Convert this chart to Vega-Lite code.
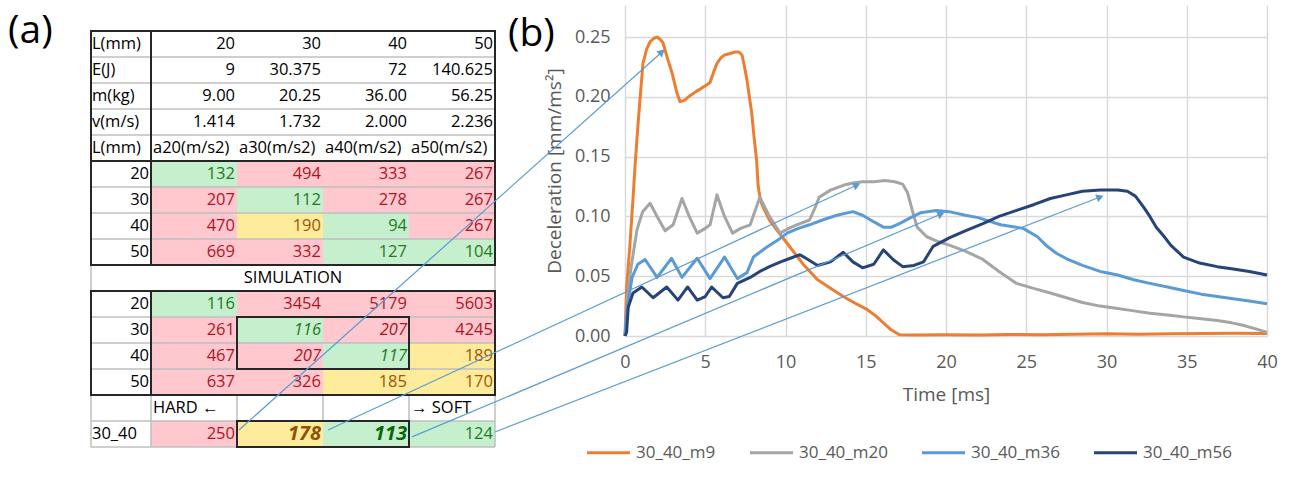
{
  "$schema": "https://vega.github.io/schema/vega-lite/v6.json",
  "background": "white",
  "padding": {"left": 8, "top": 5, "right": 5, "bottom": 5},
  "config": {
    "view": {"stroke": null},
    "font": "Open Sans",
    "text": {"font": "Open Sans"}
  },
  "datasets": {
    "cells": [
      {"row": 1, "col": "label", "text": "L(mm)", "kind": "text"},
      {"row": 1, "col": "20", "text": "20", "kind": "number"},
      {"row": 1, "col": "30", "text": "30", "kind": "number"},
      {"row": 1, "col": "40", "text": "40", "kind": "number"},
      {"row": 1, "col": "50", "text": "50", "kind": "number"},
      {"row": 2, "col": "label", "text": "E(J)", "kind": "text"},
      {"row": 2, "col": "20", "text": "9", "kind": "number"},
      {"row": 2, "col": "30", "text": "30.375", "kind": "number"},
      {"row": 2, "col": "40", "text": "72", "kind": "number"},
      {"row": 2, "col": "50", "text": "140.625", "kind": "number"},
      {"row": 3, "col": "label", "text": "m(kg)", "kind": "text"},
      {"row": 3, "col": "20", "text": "9.00", "kind": "number"},
      {"row": 3, "col": "30", "text": "20.25", "kind": "number"},
      {"row": 3, "col": "40", "text": "36.00", "kind": "number"},
      {"row": 3, "col": "50", "text": "56.25", "kind": "number"},
      {"row": 4, "col": "label", "text": "v(m/s)", "kind": "text"},
      {"row": 4, "col": "20", "text": "1.414", "kind": "number"},
      {"row": 4, "col": "30", "text": "1.732", "kind": "number"},
      {"row": 4, "col": "40", "text": "2.000", "kind": "number"},
      {"row": 4, "col": "50", "text": "2.236", "kind": "number"},
      {"row": 5, "col": "label", "text": "L(mm)", "kind": "text"},
      {"row": 5, "col": "20", "text": "a20(m/s2)", "kind": "text"},
      {"row": 5, "col": "30", "text": "a30(m/s2)", "kind": "text"},
      {"row": 5, "col": "40", "text": "a40(m/s2)", "kind": "text"},
      {"row": 5, "col": "50", "text": "a50(m/s2)", "kind": "text"},
      {"row": 6, "col": "label", "text": "20", "kind": "number"},
      {"row": 6, "col": "20", "text": "132", "kind": "number", "rating": "good"},
      {"row": 6, "col": "30", "text": "494", "kind": "number", "rating": "poor"},
      {"row": 6, "col": "40", "text": "333", "kind": "number", "rating": "poor"},
      {"row": 6, "col": "50", "text": "267", "kind": "number", "rating": "poor"},
      {"row": 7, "col": "label", "text": "30", "kind": "number"},
      {"row": 7, "col": "20", "text": "207", "kind": "number", "rating": "poor"},
      {"row": 7, "col": "30", "text": "112", "kind": "number", "rating": "good"},
      {"row": 7, "col": "40", "text": "278", "kind": "number", "rating": "poor"},
      {"row": 7, "col": "50", "text": "267", "kind": "number", "rating": "poor"},
      {"row": 8, "col": "label", "text": "40", "kind": "number"},
      {"row": 8, "col": "20", "text": "470", "kind": "number", "rating": "poor"},
      {"row": 8, "col": "30", "text": "190", "kind": "number", "rating": "fair"},
      {"row": 8, "col": "40", "text": "94", "kind": "number", "rating": "good"},
      {"row": 8, "col": "50", "text": "267", "kind": "number", "rating": "poor"},
      {"row": 9, "col": "label", "text": "50", "kind": "number"},
      {"row": 9, "col": "20", "text": "669", "kind": "number", "rating": "poor"},
      {"row": 9, "col": "30", "text": "332", "kind": "number", "rating": "poor"},
      {"row": 9, "col": "40", "text": "127", "kind": "number", "rating": "good"},
      {"row": 9, "col": "50", "text": "104", "kind": "number", "rating": "good"},
      {"row": 10, "col": "all", "text": "SIMULATION", "kind": "text"},
      {"row": 11, "col": "label", "text": "20", "kind": "number"},
      {"row": 11, "col": "20", "text": "116", "kind": "number", "rating": "good"},
      {"row": 11, "col": "30", "text": "3454", "kind": "number", "rating": "poor"},
      {"row": 11, "col": "40", "text": "5179", "kind": "number", "rating": "poor"},
      {"row": 11, "col": "50", "text": "5603", "kind": "number", "rating": "poor"},
      {"row": 12, "col": "label", "text": "30", "kind": "number"},
      {"row": 12, "col": "20", "text": "261", "kind": "number", "rating": "poor"},
      {"row": 12, "col": "30", "text": "116", "kind": "number", "rating": "good", "emph": "boxed"},
      {"row": 12, "col": "40", "text": "207", "kind": "number", "rating": "poor", "emph": "boxed"},
      {"row": 12, "col": "50", "text": "4245", "kind": "number", "rating": "poor"},
      {"row": 13, "col": "label", "text": "40", "kind": "number"},
      {"row": 13, "col": "20", "text": "467", "kind": "number", "rating": "poor"},
      {"row": 13, "col": "30", "text": "207", "kind": "number", "rating": "poor", "emph": "boxed"},
      {"row": 13, "col": "40", "text": "117", "kind": "number", "rating": "good", "emph": "boxed"},
      {"row": 13, "col": "50", "text": "189", "kind": "number", "rating": "fair"},
      {"row": 14, "col": "label", "text": "50", "kind": "number"},
      {"row": 14, "col": "20", "text": "637", "kind": "number", "rating": "poor"},
      {"row": 14, "col": "30", "text": "326", "kind": "number", "rating": "poor"},
      {"row": 14, "col": "40", "text": "185", "kind": "number", "rating": "fair"},
      {"row": 14, "col": "50", "text": "170", "kind": "number", "rating": "fair"},
      {"row": 15, "col": "20", "text": "HARD ←", "kind": "text"},
      {"row": 15, "col": "50", "text": "→ SOFT", "kind": "text"},
      {"row": 16, "col": "label", "text": "30_40", "kind": "text"},
      {"row": 16, "col": "20", "text": "250", "kind": "number", "rating": "poor"},
      {"row": 16, "col": "30", "text": "178", "kind": "number", "rating": "fair", "emph": "best"},
      {"row": 16, "col": "40", "text": "113", "kind": "number", "rating": "good", "emph": "best"},
      {"row": 16, "col": "50", "text": "124", "kind": "number", "rating": "good"}
    ],
    "rows": [
      {"row": 1}, {"row": 2}, {"row": 3}, {"row": 4}, {"row": 5}, {"row": 6}, {"row": 7}, {"row": 8},
      {"row": 9}, {"row": 10}, {"row": 11}, {"row": 12}, {"row": 13}, {"row": 14}, {"row": 15}, {"row": 16}
    ],
    "borders": [
      {"region": "label", "kind": "minor", "x0": 0, "x1": 0, "y0": 10, "y1": 11},
      {"region": "label", "kind": "minor", "x0": 0, "x1": 0, "y0": 15, "y1": 17},
      {"region": "label", "kind": "minor", "x0": 1, "x1": 1, "y0": 15, "y1": 17},
      {"region": "data", "kind": "minor", "x0": 4, "x1": 4, "y0": 10, "y1": 11},
      {"region": "data", "kind": "minor", "x0": 4, "x1": 4, "y0": 15, "y1": 17},
      {"region": "data", "kind": "minor", "x0": 1, "x1": 1, "y0": 15, "y1": 16},
      {"region": "data", "kind": "minor", "x0": 2, "x1": 2, "y0": 15, "y1": 16},
      {"region": "data", "kind": "minor", "x0": 3, "x1": 3, "y0": 15, "y1": 16},
      {"region": "label", "kind": "box", "x0": 0, "x1": 1, "y0": 1, "y1": 10},
      {"region": "label", "kind": "box", "x0": 0, "x1": 1, "y0": 11, "y1": 15},
      {"region": "data", "kind": "box", "x0": 0, "x1": 4, "y0": 1, "y1": 10},
      {"region": "data", "kind": "box", "x0": 0, "x1": 4, "y0": 11, "y1": 15},
      {"region": "data", "kind": "box", "x0": 1, "x1": 3, "y0": 12, "y1": 14},
      {"region": "data", "kind": "box", "x0": 1, "x1": 3, "y0": 16, "y1": 17},
      {"region": "all", "kind": "hline", "x0": 0, "x1": 5, "y0": 6, "y1": 6}
    ],
    "curves": [
      {"series": "30_40_m9", "time": 0, "decel": 0},
      {"series": "30_40_m9", "time": 0.1, "decel": 0.04},
      {"series": "30_40_m9", "time": 0.3, "decel": 0.075},
      {"series": "30_40_m9", "time": 0.5, "decel": 0.115},
      {"series": "30_40_m9", "time": 0.62, "decel": 0.141},
      {"series": "30_40_m9", "time": 0.8, "decel": 0.175},
      {"series": "30_40_m9", "time": 0.93, "decel": 0.197},
      {"series": "30_40_m9", "time": 1.12, "decel": 0.228},
      {"series": "30_40_m9", "time": 1.35, "decel": 0.24},
      {"series": "30_40_m9", "time": 1.56, "decel": 0.246},
      {"series": "30_40_m9", "time": 1.8, "decel": 0.249},
      {"series": "30_40_m9", "time": 2.0, "decel": 0.25},
      {"series": "30_40_m9", "time": 2.2, "decel": 0.248},
      {"series": "30_40_m9", "time": 2.37, "decel": 0.245},
      {"series": "30_40_m9", "time": 2.65, "decel": 0.232},
      {"series": "30_40_m9", "time": 2.93, "decel": 0.22},
      {"series": "30_40_m9", "time": 3.24, "decel": 0.203},
      {"series": "30_40_m9", "time": 3.43, "decel": 0.196},
      {"series": "30_40_m9", "time": 3.7, "decel": 0.197},
      {"series": "30_40_m9", "time": 4.05, "decel": 0.201},
      {"series": "30_40_m9", "time": 4.5, "decel": 0.205},
      {"series": "30_40_m9", "time": 4.86, "decel": 0.208},
      {"series": "30_40_m9", "time": 5.1, "decel": 0.21},
      {"series": "30_40_m9", "time": 5.3, "decel": 0.212},
      {"series": "30_40_m9", "time": 5.5, "decel": 0.22},
      {"series": "30_40_m9", "time": 5.73, "decel": 0.228},
      {"series": "30_40_m9", "time": 6.0, "decel": 0.233},
      {"series": "30_40_m9", "time": 6.2, "decel": 0.235},
      {"series": "30_40_m9", "time": 6.5, "decel": 0.236},
      {"series": "30_40_m9", "time": 6.85, "decel": 0.2375},
      {"series": "30_40_m9", "time": 7.1, "decel": 0.2375},
      {"series": "30_40_m9", "time": 7.29, "decel": 0.235},
      {"series": "30_40_m9", "time": 7.45, "decel": 0.225},
      {"series": "30_40_m9", "time": 7.6, "decel": 0.214},
      {"series": "30_40_m9", "time": 7.75, "decel": 0.2},
      {"series": "30_40_m9", "time": 7.9, "decel": 0.186},
      {"series": "30_40_m9", "time": 8.05, "decel": 0.165},
      {"series": "30_40_m9", "time": 8.2, "decel": 0.147},
      {"series": "30_40_m9", "time": 8.3, "decel": 0.125},
      {"series": "30_40_m9", "time": 8.45, "decel": 0.113},
      {"series": "30_40_m9", "time": 8.6, "decel": 0.108},
      {"series": "30_40_m9", "time": 9.0, "decel": 0.097},
      {"series": "30_40_m9", "time": 9.5, "decel": 0.088},
      {"series": "30_40_m9", "time": 10.3, "decel": 0.074},
      {"series": "30_40_m9", "time": 11.1, "decel": 0.06},
      {"series": "30_40_m9", "time": 12.0, "decel": 0.047},
      {"series": "30_40_m9", "time": 12.8, "decel": 0.04},
      {"series": "30_40_m9", "time": 13.6, "decel": 0.033},
      {"series": "30_40_m9", "time": 14.4, "decel": 0.027},
      {"series": "30_40_m9", "time": 15.1, "decel": 0.022},
      {"series": "30_40_m9", "time": 15.6, "decel": 0.017},
      {"series": "30_40_m9", "time": 16.1, "decel": 0.011},
      {"series": "30_40_m9", "time": 16.6, "decel": 0.005},
      {"series": "30_40_m9", "time": 17.1, "decel": 0.001},
      {"series": "30_40_m9", "time": 18, "decel": 0.0008},
      {"series": "30_40_m9", "time": 20, "decel": 0.001},
      {"series": "30_40_m9", "time": 22, "decel": 0.0008},
      {"series": "30_40_m9", "time": 24, "decel": 0.0012},
      {"series": "30_40_m9", "time": 26, "decel": 0.001},
      {"series": "30_40_m9", "time": 28, "decel": 0.0015},
      {"series": "30_40_m9", "time": 30, "decel": 0.0018},
      {"series": "30_40_m9", "time": 32, "decel": 0.0015},
      {"series": "30_40_m9", "time": 34, "decel": 0.0018},
      {"series": "30_40_m9", "time": 36, "decel": 0.002},
      {"series": "30_40_m9", "time": 38, "decel": 0.0022},
      {"series": "30_40_m9", "time": 40, "decel": 0.002},
      {"series": "30_40_m20", "time": 0, "decel": 0},
      {"series": "30_40_m20", "time": 0.12, "decel": 0.024},
      {"series": "30_40_m20", "time": 0.3, "decel": 0.05},
      {"series": "30_40_m20", "time": 0.5, "decel": 0.068},
      {"series": "30_40_m20", "time": 0.75, "decel": 0.089},
      {"series": "30_40_m20", "time": 1.1, "decel": 0.104},
      {"series": "30_40_m20", "time": 1.56, "decel": 0.111},
      {"series": "30_40_m20", "time": 2.0, "decel": 0.1},
      {"series": "30_40_m20", "time": 2.5, "decel": 0.088},
      {"series": "30_40_m20", "time": 3.0, "decel": 0.093},
      {"series": "30_40_m20", "time": 3.55, "decel": 0.115},
      {"series": "30_40_m20", "time": 4.0, "decel": 0.1},
      {"series": "30_40_m20", "time": 4.5, "decel": 0.086},
      {"series": "30_40_m20", "time": 5.0, "decel": 0.09},
      {"series": "30_40_m20", "time": 5.3, "decel": 0.093},
      {"series": "30_40_m20", "time": 5.73, "decel": 0.118},
      {"series": "30_40_m20", "time": 6.2, "decel": 0.1},
      {"series": "30_40_m20", "time": 6.7, "decel": 0.086},
      {"series": "30_40_m20", "time": 7.2, "decel": 0.09},
      {"series": "30_40_m20", "time": 7.8, "decel": 0.093},
      {"series": "30_40_m20", "time": 8.4, "decel": 0.116},
      {"series": "30_40_m20", "time": 9.0, "decel": 0.1},
      {"series": "30_40_m20", "time": 9.66, "decel": 0.086},
      {"series": "30_40_m20", "time": 10.2, "decel": 0.09},
      {"series": "30_40_m20", "time": 10.7, "decel": 0.093},
      {"series": "30_40_m20", "time": 11.5, "decel": 0.097},
      {"series": "30_40_m20", "time": 11.8, "decel": 0.106},
      {"series": "30_40_m20", "time": 12.1, "decel": 0.116},
      {"series": "30_40_m20", "time": 12.8, "decel": 0.122},
      {"series": "30_40_m20", "time": 13.6, "decel": 0.126},
      {"series": "30_40_m20", "time": 14.2, "decel": 0.128},
      {"series": "30_40_m20", "time": 14.8, "decel": 0.129},
      {"series": "30_40_m20", "time": 15.5, "decel": 0.129},
      {"series": "30_40_m20", "time": 16.2, "decel": 0.13},
      {"series": "30_40_m20", "time": 16.8, "decel": 0.129},
      {"series": "30_40_m20", "time": 17.3, "decel": 0.127},
      {"series": "30_40_m20", "time": 17.6, "decel": 0.12},
      {"series": "30_40_m20", "time": 17.9, "decel": 0.105},
      {"series": "30_40_m20", "time": 18.2, "decel": 0.091},
      {"series": "30_40_m20", "time": 18.8, "decel": 0.083},
      {"series": "30_40_m20", "time": 19.5, "decel": 0.079},
      {"series": "30_40_m20", "time": 20.2, "decel": 0.076},
      {"series": "30_40_m20", "time": 21.2, "decel": 0.071},
      {"series": "30_40_m20", "time": 22.3, "decel": 0.064},
      {"series": "30_40_m20", "time": 23.3, "decel": 0.054},
      {"series": "30_40_m20", "time": 24.4, "decel": 0.044},
      {"series": "30_40_m20", "time": 25.4, "decel": 0.04},
      {"series": "30_40_m20", "time": 26.5, "decel": 0.036},
      {"series": "30_40_m20", "time": 27.5, "decel": 0.032},
      {"series": "30_40_m20", "time": 28.5, "decel": 0.028},
      {"series": "30_40_m20", "time": 29.6, "decel": 0.025},
      {"series": "30_40_m20", "time": 30.7, "decel": 0.023},
      {"series": "30_40_m20", "time": 31.7, "decel": 0.021},
      {"series": "30_40_m20", "time": 32.7, "decel": 0.019},
      {"series": "30_40_m20", "time": 33.8, "decel": 0.0175},
      {"series": "30_40_m20", "time": 34.8, "decel": 0.016},
      {"series": "30_40_m20", "time": 35.9, "decel": 0.0145},
      {"series": "30_40_m20", "time": 36.9, "decel": 0.013},
      {"series": "30_40_m20", "time": 37.8, "decel": 0.011},
      {"series": "30_40_m20", "time": 38.5, "decel": 0.009},
      {"series": "30_40_m20", "time": 39.3, "decel": 0.006},
      {"series": "30_40_m20", "time": 40, "decel": 0.003},
      {"series": "30_40_m36", "time": 0, "decel": 0},
      {"series": "30_40_m36", "time": 0.12, "decel": 0.022},
      {"series": "30_40_m36", "time": 0.44, "decel": 0.049},
      {"series": "30_40_m36", "time": 0.8, "decel": 0.06},
      {"series": "30_40_m36", "time": 1.25, "decel": 0.064},
      {"series": "30_40_m36", "time": 2.0, "decel": 0.049},
      {"series": "30_40_m36", "time": 2.9, "decel": 0.065},
      {"series": "30_40_m36", "time": 3.55, "decel": 0.049},
      {"series": "30_40_m36", "time": 4.5, "decel": 0.065},
      {"series": "30_40_m36", "time": 5.3, "decel": 0.048},
      {"series": "30_40_m36", "time": 6.2, "decel": 0.066},
      {"series": "30_40_m36", "time": 7.0, "decel": 0.048},
      {"series": "30_40_m36", "time": 7.6, "decel": 0.053},
      {"series": "30_40_m36", "time": 8.0, "decel": 0.066},
      {"series": "30_40_m36", "time": 8.8, "decel": 0.074},
      {"series": "30_40_m36", "time": 9.5, "decel": 0.08},
      {"series": "30_40_m36", "time": 10.1, "decel": 0.086},
      {"series": "30_40_m36", "time": 10.8, "decel": 0.09},
      {"series": "30_40_m36", "time": 11.5, "decel": 0.093},
      {"series": "30_40_m36", "time": 12.3, "decel": 0.097},
      {"series": "30_40_m36", "time": 13.2, "decel": 0.101},
      {"series": "30_40_m36", "time": 14.2, "decel": 0.104},
      {"series": "30_40_m36", "time": 14.8, "decel": 0.101},
      {"series": "30_40_m36", "time": 15.3, "decel": 0.097},
      {"series": "30_40_m36", "time": 16.1, "decel": 0.091},
      {"series": "30_40_m36", "time": 16.6, "decel": 0.091},
      {"series": "30_40_m36", "time": 17.1, "decel": 0.094},
      {"series": "30_40_m36", "time": 17.8, "decel": 0.099},
      {"series": "30_40_m36", "time": 18.4, "decel": 0.103},
      {"series": "30_40_m36", "time": 19.4, "decel": 0.105},
      {"series": "30_40_m36", "time": 20.2, "decel": 0.104},
      {"series": "30_40_m36", "time": 21.2, "decel": 0.101},
      {"series": "30_40_m36", "time": 22.0, "decel": 0.099},
      {"series": "30_40_m36", "time": 23.4, "decel": 0.093},
      {"series": "30_40_m36", "time": 24.8, "decel": 0.09},
      {"series": "30_40_m36", "time": 25.7, "decel": 0.083},
      {"series": "30_40_m36", "time": 26.3, "decel": 0.075},
      {"series": "30_40_m36", "time": 26.9, "decel": 0.069},
      {"series": "30_40_m36", "time": 27.6, "decel": 0.064},
      {"series": "30_40_m36", "time": 28.5, "decel": 0.059},
      {"series": "30_40_m36", "time": 29.6, "decel": 0.054},
      {"series": "30_40_m36", "time": 30.7, "decel": 0.051},
      {"series": "30_40_m36", "time": 31.7, "decel": 0.047},
      {"series": "30_40_m36", "time": 32.7, "decel": 0.044},
      {"series": "30_40_m36", "time": 33.8, "decel": 0.041},
      {"series": "30_40_m36", "time": 34.8, "decel": 0.038},
      {"series": "30_40_m36", "time": 35.9, "decel": 0.035},
      {"series": "30_40_m36", "time": 36.9, "decel": 0.033},
      {"series": "30_40_m36", "time": 38, "decel": 0.031},
      {"series": "30_40_m36", "time": 39, "decel": 0.029},
      {"series": "30_40_m36", "time": 40, "decel": 0.027},
      {"series": "30_40_m56", "time": 0, "decel": 0},
      {"series": "30_40_m56", "time": 0.1, "decel": 0.003},
      {"series": "30_40_m56", "time": 0.2, "decel": 0.024},
      {"series": "30_40_m56", "time": 0.5, "decel": 0.036},
      {"series": "30_40_m56", "time": 1.05, "decel": 0.041},
      {"series": "30_40_m56", "time": 1.75, "decel": 0.032},
      {"series": "30_40_m56", "time": 2.6, "decel": 0.041},
      {"series": "30_40_m56", "time": 3.3, "decel": 0.03},
      {"series": "30_40_m56", "time": 3.9, "decel": 0.041},
      {"series": "30_40_m56", "time": 4.5, "decel": 0.03},
      {"series": "30_40_m56", "time": 5.0, "decel": 0.033},
      {"series": "30_40_m56", "time": 5.4, "decel": 0.041},
      {"series": "30_40_m56", "time": 6.1, "decel": 0.032},
      {"series": "30_40_m56", "time": 6.5, "decel": 0.033},
      {"series": "30_40_m56", "time": 7.0, "decel": 0.044},
      {"series": "30_40_m56", "time": 7.8, "decel": 0.049},
      {"series": "30_40_m56", "time": 8.4, "decel": 0.054},
      {"series": "30_40_m56", "time": 9.0, "decel": 0.058},
      {"series": "30_40_m56", "time": 9.7, "decel": 0.062},
      {"series": "30_40_m56", "time": 10.3, "decel": 0.065},
      {"series": "30_40_m56", "time": 10.9, "decel": 0.068},
      {"series": "30_40_m56", "time": 11.4, "decel": 0.064},
      {"series": "30_40_m56", "time": 12.0, "decel": 0.059},
      {"series": "30_40_m56", "time": 12.8, "decel": 0.062},
      {"series": "30_40_m56", "time": 13.6, "decel": 0.07},
      {"series": "30_40_m56", "time": 14.2, "decel": 0.062},
      {"series": "30_40_m56", "time": 14.8, "decel": 0.057},
      {"series": "30_40_m56", "time": 15.5, "decel": 0.06},
      {"series": "30_40_m56", "time": 16.1, "decel": 0.072},
      {"series": "30_40_m56", "time": 16.7, "decel": 0.064},
      {"series": "30_40_m56", "time": 17.3, "decel": 0.058},
      {"series": "30_40_m56", "time": 18.0, "decel": 0.059},
      {"series": "30_40_m56", "time": 18.6, "decel": 0.062},
      {"series": "30_40_m56", "time": 19.2, "decel": 0.075},
      {"series": "30_40_m56", "time": 20.2, "decel": 0.082},
      {"series": "30_40_m56", "time": 21.2, "decel": 0.088},
      {"series": "30_40_m56", "time": 22.3, "decel": 0.094},
      {"series": "30_40_m56", "time": 23.3, "decel": 0.1},
      {"series": "30_40_m56", "time": 24.4, "decel": 0.105},
      {"series": "30_40_m56", "time": 25.5, "decel": 0.11},
      {"series": "30_40_m56", "time": 26.5, "decel": 0.115},
      {"series": "30_40_m56", "time": 27.5, "decel": 0.118},
      {"series": "30_40_m56", "time": 28.5, "decel": 0.121},
      {"series": "30_40_m56", "time": 29.6, "decel": 0.122},
      {"series": "30_40_m56", "time": 30.7, "decel": 0.122},
      {"series": "30_40_m56", "time": 31.3, "decel": 0.121},
      {"series": "30_40_m56", "time": 31.8, "decel": 0.117},
      {"series": "30_40_m56", "time": 32.3, "decel": 0.108},
      {"series": "30_40_m56", "time": 32.7, "decel": 0.1},
      {"series": "30_40_m56", "time": 33.1, "decel": 0.091},
      {"series": "30_40_m56", "time": 33.6, "decel": 0.083},
      {"series": "30_40_m56", "time": 34.0, "decel": 0.076},
      {"series": "30_40_m56", "time": 34.8, "decel": 0.066},
      {"series": "30_40_m56", "time": 35.8, "decel": 0.061},
      {"series": "30_40_m56", "time": 36.9, "decel": 0.058},
      {"series": "30_40_m56", "time": 37.9, "decel": 0.056},
      {"series": "30_40_m56", "time": 38.9, "decel": 0.054},
      {"series": "30_40_m56", "time": 40, "decel": 0.051}
    ],
    "arrows": [
      {"id": "A", "t0": -24.05, "v0": -0.0786, "t1": 2.3, "v1": 0.2375},
      {"id": "B", "t0": -18.5, "v0": -0.0786, "t1": 14.45, "v1": 0.1263},
      {"id": "C", "t0": -13.27, "v0": -0.0844, "t1": 19.7, "v1": 0.102},
      {"id": "D", "t0": -8.1, "v0": -0.0803, "t1": 29.6, "v1": 0.1162}
    ]
  },
  "hconcat": [
    {
      "width": 404,
      "height": 442,
      "title": {"text": "(a)", "orient": "top", "anchor": "start", "frame": "group", "baseline": "top", "align": "left", "offset": 0, "dx": -83, "dy": 46, "font": "Open Sans", "fontSize": 39, "fontWeight": "normal", "color": "#000000"},
      "layer": [
        {
          "data": {"name": "cells"},
          "transform": [{"filter": "datum.rating != null"}],
          "mark": {"type": "rect"},
          "encoding": {
            "x": {"field": "col", "type": "ordinal", "scale": {"type": "band", "domain": ["20", "30", "40", "50"], "range": [60, 404], "paddingInner": 0, "paddingOuter": 0}, "axis": null},
            "y": {"field": "row", "type": "ordinal", "scale": {"type": "band", "domain": [0, 1, 2, 3, 4, 5, 6, 7, 8, 9, 10, 11, 12, 13, 14, 15, 16], "paddingInner": 0, "paddingOuter": 0}, "axis": null},
            "color": {"field": "rating", "type": "nominal", "scale": {"domain": ["good", "fair", "poor"], "range": ["#C6EFCE", "#FFEB9C", "#FFC7CE"]}, "legend": null}
          }
        },
        {
          "data": {"name": "rows"},
          "mark": {"type": "rule", "color": "#BFBFBF", "strokeWidth": 1.5},
          "encoding": {
            "y": {"field": "row", "type": "ordinal", "bandPosition": 1, "scale": {"type": "band", "domain": [0, 1, 2, 3, 4, 5, 6, 7, 8, 9, 10, 11, 12, 13, 14, 15, 16], "paddingInner": 0, "paddingOuter": 0}, "axis": null}
          }
        },
        {
          "data": {"name": "borders"},
          "transform": [{"filter": "datum.region == 'label' && datum.kind == 'minor'"}],
          "mark": {"type": "rule", "color": "#BFBFBF", "strokeWidth": 1.5},
          "encoding": {
            "x": {"field": "x0", "type": "quantitative", "scale": {"domain": [0, 1], "range": [0, 60], "nice": false, "zero": false}, "axis": null},
            "y": {"field": "y0", "type": "quantitative", "scale": {"domain": [0, 17], "reverse": true, "nice": false, "zero": false}, "axis": null},
            "y2": {"field": "y1"}
          }
        },
        {
          "data": {"name": "borders"},
          "transform": [{"filter": "datum.region == 'data' && datum.kind == 'minor'"}],
          "mark": {"type": "rule", "color": "#BFBFBF", "strokeWidth": 1.5},
          "encoding": {
            "x": {"field": "x0", "type": "quantitative", "scale": {"domain": [0, 4], "range": [60, 404], "nice": false, "zero": false}, "axis": null},
            "y": {"field": "y0", "type": "quantitative", "scale": {"domain": [0, 17], "reverse": true, "nice": false, "zero": false}, "axis": null},
            "y2": {"field": "y1"}
          }
        },
        {
          "data": {"name": "borders"},
          "transform": [{"filter": "datum.region == 'label' && datum.kind == 'box'"}],
          "mark": {"type": "rect", "fillOpacity": 0, "stroke": "#262626", "strokeWidth": 2},
          "encoding": {
            "x": {"field": "x0", "type": "quantitative", "scale": {"domain": [0, 1], "range": [0, 60], "nice": false, "zero": false}, "axis": null},
            "x2": {"field": "x1"},
            "y": {"field": "y0", "type": "quantitative", "scale": {"domain": [0, 17], "reverse": true, "nice": false, "zero": false}, "axis": null},
            "y2": {"field": "y1"}
          }
        },
        {
          "data": {"name": "borders"},
          "transform": [{"filter": "datum.region == 'data' && datum.kind == 'box'"}],
          "mark": {"type": "rect", "fillOpacity": 0, "stroke": "#262626", "strokeWidth": 2},
          "encoding": {
            "x": {"field": "x0", "type": "quantitative", "scale": {"domain": [0, 4], "range": [60, 404], "nice": false, "zero": false}, "axis": null},
            "x2": {"field": "x1"},
            "y": {"field": "y0", "type": "quantitative", "scale": {"domain": [0, 17], "reverse": true, "nice": false, "zero": false}, "axis": null},
            "y2": {"field": "y1"}
          }
        },
        {
          "data": {"name": "borders"},
          "transform": [{"filter": "datum.kind == 'hline'"}],
          "mark": {"type": "rule", "color": "#262626", "strokeWidth": 2},
          "encoding": {
            "y": {"field": "y0", "type": "quantitative", "scale": {"domain": [0, 17], "reverse": true, "nice": false, "zero": false}, "axis": null}
          }
        },
        {
          "data": {"name": "cells"},
          "transform": [{"filter": "datum.col == 'label' && datum.kind == 'text'"}],
          "mark": {"type": "text", "font": "Open Sans", "fontSize": 16.5, "align": "left", "baseline": "middle", "dx": 1, "color": "#000000"},
          "encoding": {
            "x": {"field": "col", "type": "ordinal", "bandPosition": 0, "scale": {"type": "band", "domain": ["label"], "range": [0, 60], "paddingInner": 0, "paddingOuter": 0}, "axis": null},
            "y": {"field": "row", "type": "ordinal", "scale": {"type": "band", "domain": [0, 1, 2, 3, 4, 5, 6, 7, 8, 9, 10, 11, 12, 13, 14, 15, 16], "paddingInner": 0, "paddingOuter": 0}, "axis": null},
            "text": {"field": "text"}
          }
        },
        {
          "data": {"name": "cells"},
          "transform": [{"filter": "datum.col == 'label' && datum.kind == 'number'"}],
          "mark": {"type": "text", "font": "Open Sans", "fontSize": 16.5, "align": "right", "baseline": "middle", "dx": -2, "color": "#000000"},
          "encoding": {
            "x": {"field": "col", "type": "ordinal", "bandPosition": 1, "scale": {"type": "band", "domain": ["label"], "range": [0, 60], "paddingInner": 0, "paddingOuter": 0}, "axis": null},
            "y": {"field": "row", "type": "ordinal", "scale": {"type": "band", "domain": [0, 1, 2, 3, 4, 5, 6, 7, 8, 9, 10, 11, 12, 13, 14, 15, 16], "paddingInner": 0, "paddingOuter": 0}, "axis": null},
            "text": {"field": "text"}
          }
        },
        {
          "data": {"name": "cells"},
          "transform": [{"filter": "datum.col != 'label' && datum.col != 'all' && datum.kind == 'text'"}],
          "mark": {"type": "text", "font": "Open Sans", "fontSize": 16.5, "align": "left", "baseline": "middle", "dx": 2, "color": "#000000"},
          "encoding": {
            "x": {"field": "col", "type": "ordinal", "bandPosition": 0, "scale": {"type": "band", "domain": ["20", "30", "40", "50"], "range": [60, 404], "paddingInner": 0, "paddingOuter": 0}, "axis": null},
            "y": {"field": "row", "type": "ordinal", "scale": {"type": "band", "domain": [0, 1, 2, 3, 4, 5, 6, 7, 8, 9, 10, 11, 12, 13, 14, 15, 16], "paddingInner": 0, "paddingOuter": 0}, "axis": null},
            "text": {"field": "text"}
          }
        },
        {
          "data": {"name": "cells"},
          "transform": [{"filter": "datum.col != 'label' && datum.col != 'all' && datum.kind == 'number' && datum.rating == null"}],
          "mark": {"type": "text", "font": "Open Sans", "fontSize": 16.5, "align": "right", "baseline": "middle", "dx": -2, "color": "#000000"},
          "encoding": {
            "x": {"field": "col", "type": "ordinal", "bandPosition": 1, "scale": {"type": "band", "domain": ["20", "30", "40", "50"], "range": [60, 404], "paddingInner": 0, "paddingOuter": 0}, "axis": null},
            "y": {"field": "row", "type": "ordinal", "scale": {"type": "band", "domain": [0, 1, 2, 3, 4, 5, 6, 7, 8, 9, 10, 11, 12, 13, 14, 15, 16], "paddingInner": 0, "paddingOuter": 0}, "axis": null},
            "text": {"field": "text"}
          }
        },
        {
          "data": {"name": "cells"},
          "transform": [{"filter": "datum.rating != null && datum.emph == null"}],
          "mark": {"type": "text", "font": "Open Sans", "fontSize": 16.5, "align": "right", "baseline": "middle", "dx": -2},
          "encoding": {
            "x": {"field": "col", "type": "ordinal", "bandPosition": 1, "scale": {"type": "band", "domain": ["20", "30", "40", "50"], "range": [60, 404], "paddingInner": 0, "paddingOuter": 0}, "axis": null},
            "y": {"field": "row", "type": "ordinal", "scale": {"type": "band", "domain": [0, 1, 2, 3, 4, 5, 6, 7, 8, 9, 10, 11, 12, 13, 14, 15, 16], "paddingInner": 0, "paddingOuter": 0}, "axis": null},
            "text": {"field": "text"},
            "color": {"field": "rating", "type": "nominal", "scale": {"domain": ["good", "fair", "poor"], "range": ["#1E7B1E", "#9C5700", "#B3131F"]}, "legend": null}
          }
        },
        {
          "data": {"name": "cells"},
          "transform": [{"filter": "datum.rating != null && datum.emph == 'boxed'"}],
          "mark": {"type": "text", "font": "Open Sans", "fontSize": 16.5, "fontStyle": "italic", "align": "right", "baseline": "middle", "dx": -2},
          "encoding": {
            "x": {"field": "col", "type": "ordinal", "bandPosition": 1, "scale": {"type": "band", "domain": ["20", "30", "40", "50"], "range": [60, 404], "paddingInner": 0, "paddingOuter": 0}, "axis": null},
            "y": {"field": "row", "type": "ordinal", "scale": {"type": "band", "domain": [0, 1, 2, 3, 4, 5, 6, 7, 8, 9, 10, 11, 12, 13, 14, 15, 16], "paddingInner": 0, "paddingOuter": 0}, "axis": null},
            "text": {"field": "text"},
            "color": {"field": "rating", "type": "nominal", "scale": {"domain": ["good", "fair", "poor"], "range": ["#1E7B1E", "#9C5700", "#B3131F"]}, "legend": null}
          }
        },
        {
          "data": {"name": "cells"},
          "transform": [{"filter": "datum.rating != null && datum.emph == 'best'"}],
          "mark": {"type": "text", "font": "Open Sans", "fontSize": 20, "fontStyle": "italic", "fontWeight": "bold", "align": "right", "baseline": "middle", "dx": -2},
          "encoding": {
            "x": {"field": "col", "type": "ordinal", "bandPosition": 1, "scale": {"type": "band", "domain": ["20", "30", "40", "50"], "range": [60, 404], "paddingInner": 0, "paddingOuter": 0}, "axis": null},
            "y": {"field": "row", "type": "ordinal", "scale": {"type": "band", "domain": [0, 1, 2, 3, 4, 5, 6, 7, 8, 9, 10, 11, 12, 13, 14, 15, 16], "paddingInner": 0, "paddingOuter": 0}, "axis": null},
            "text": {"field": "text"},
            "color": {"field": "rating", "type": "nominal", "scale": {"domain": ["good", "fair", "poor"], "range": ["#0B650B", "#8F5200", "#B3131F"]}, "legend": null}
          }
        },
        {
          "data": {"name": "cells"},
          "transform": [{"filter": "datum.col == 'all'"}],
          "mark": {"type": "text", "font": "Open Sans", "fontSize": 16.5, "align": "center", "baseline": "middle", "color": "#000000"},
          "encoding": {
            "y": {"field": "row", "type": "ordinal", "scale": {"type": "band", "domain": [0, 1, 2, 3, 4, 5, 6, 7, 8, 9, 10, 11, 12, 13, 14, 15, 16], "paddingInner": 0, "paddingOuter": 0}, "axis": null},
            "text": {"field": "text"}
          }
        }
      ],
      "resolve": {"scale": {"x": "independent", "y": "independent", "color": "independent"}}
    },
    {
      "width": 642,
      "height": 331,
      "title": {"text": "(b)", "orient": "top", "anchor": "start", "frame": "group", "baseline": "top", "align": "left", "offset": 0, "dx": -117, "dy": 49, "font": "Open Sans", "fontSize": 39, "fontWeight": "normal", "color": "#000000"},
      "layer": [
        {
          "data": {"name": "curves"},
          "mark": {"type": "line", "strokeWidth": 3, "strokeJoin": "round"},
          "encoding": {
            "x": {
              "field": "time", "type": "quantitative",
              "scale": {"domain": [0, 40], "nice": false, "zero": false},
              "axis": {
                "values": [0, 5, 10, 15, 20, 25, 30, 35, 40],
                "title": "Time [ms]",
                "grid": true, "gridColor": "#D9D9D9", "gridWidth": 1.5,
                "domain": false, "ticks": false, "tickSize": 0,
                "labelFont": "Open Sans", "labelFontSize": 18, "labelColor": "#595959", "labelPadding": 17, "labelFlush": false,
                "titleFont": "Open Sans", "titleFontSize": 19, "titleFontWeight": "normal", "titleColor": "#595959", "titlePadding": 14
              }
            },
            "y": {
              "field": "decel", "type": "quantitative",
              "scale": {"domain": [0, 0.2768], "nice": false, "zero": false},
              "axis": {
                "values": [0, 0.05, 0.1, 0.15, 0.2, 0.25],
                "format": ".2f",
                "title": "Deceleration [mm/ms²]",
                "grid": true, "gridColor": "#D9D9D9", "gridWidth": 1.5,
                "domain": false, "ticks": false, "tickSize": 0,
                "labelFont": "Open Sans", "labelFontSize": 18, "labelColor": "#595959", "labelPadding": 15, "labelFlush": false,
                "titleFont": "Open Sans", "titleFontSize": 19, "titleFontWeight": "normal", "titleColor": "#595959", "titlePadding": 10
              }
            },
            "color": {
              "field": "series", "type": "nominal",
              "scale": {"domain": ["30_40_m9", "30_40_m20", "30_40_m36", "30_40_m56"], "range": ["#ED7D31", "#A5A5A5", "#5B9BD5", "#264478"]},
              "legend": {
                "title": null, "orient": "none", "legendX": 494, "legendY": 424, "direction": "horizontal",
                "symbolType": "stroke", "symbolStrokeWidth": 3, "symbolSize": 1850,
                "labelFont": "Open Sans", "labelFontSize": 17, "labelColor": "#595959", "labelOffset": 4, "columnPadding": 27
              }
            }
          }
        },
        {
          "data": {"name": "arrows"},
          "mark": {"type": "rule", "color": "#5B9BD5", "strokeWidth": 1.2},
          "encoding": {
            "x": {"field": "t0", "type": "quantitative"},
            "y": {"field": "v0", "type": "quantitative"},
            "x2": {"field": "t1"},
            "y2": {"field": "v1"}
          }
        },
        {
          "data": {"name": "arrows"},
          "transform": [{"filter": "datum.id == 'A'"}],
          "mark": {"type": "point", "shape": "triangle-right", "filled": true, "color": "#5B9BD5", "size": 70, "opacity": 1, "angle": 318},
          "encoding": {"x": {"field": "t1", "type": "quantitative"}, "y": {"field": "v1", "type": "quantitative"}}
        },
        {
          "data": {"name": "arrows"},
          "transform": [{"filter": "datum.id == 'B'"}],
          "mark": {"type": "point", "shape": "triangle-right", "filled": true, "color": "#5B9BD5", "size": 70, "opacity": 1, "angle": 335},
          "encoding": {"x": {"field": "t1", "type": "quantitative"}, "y": {"field": "v1", "type": "quantitative"}}
        },
        {
          "data": {"name": "arrows"},
          "transform": [{"filter": "datum.id == 'C'"}],
          "mark": {"type": "point", "shape": "triangle-right", "filled": true, "color": "#5B9BD5", "size": 70, "opacity": 1, "angle": 337},
          "encoding": {"x": {"field": "t1", "type": "quantitative"}, "y": {"field": "v1", "type": "quantitative"}}
        },
        {
          "data": {"name": "arrows"},
          "transform": [{"filter": "datum.id == 'D'"}],
          "mark": {"type": "point", "shape": "triangle-right", "filled": true, "color": "#5B9BD5", "size": 70, "opacity": 1, "angle": 339},
          "encoding": {"x": {"field": "t1", "type": "quantitative"}, "y": {"field": "v1", "type": "quantitative"}}
        }
      ]
    }
  ],
  "spacing": 130,
  "bounds": "flush"
}
